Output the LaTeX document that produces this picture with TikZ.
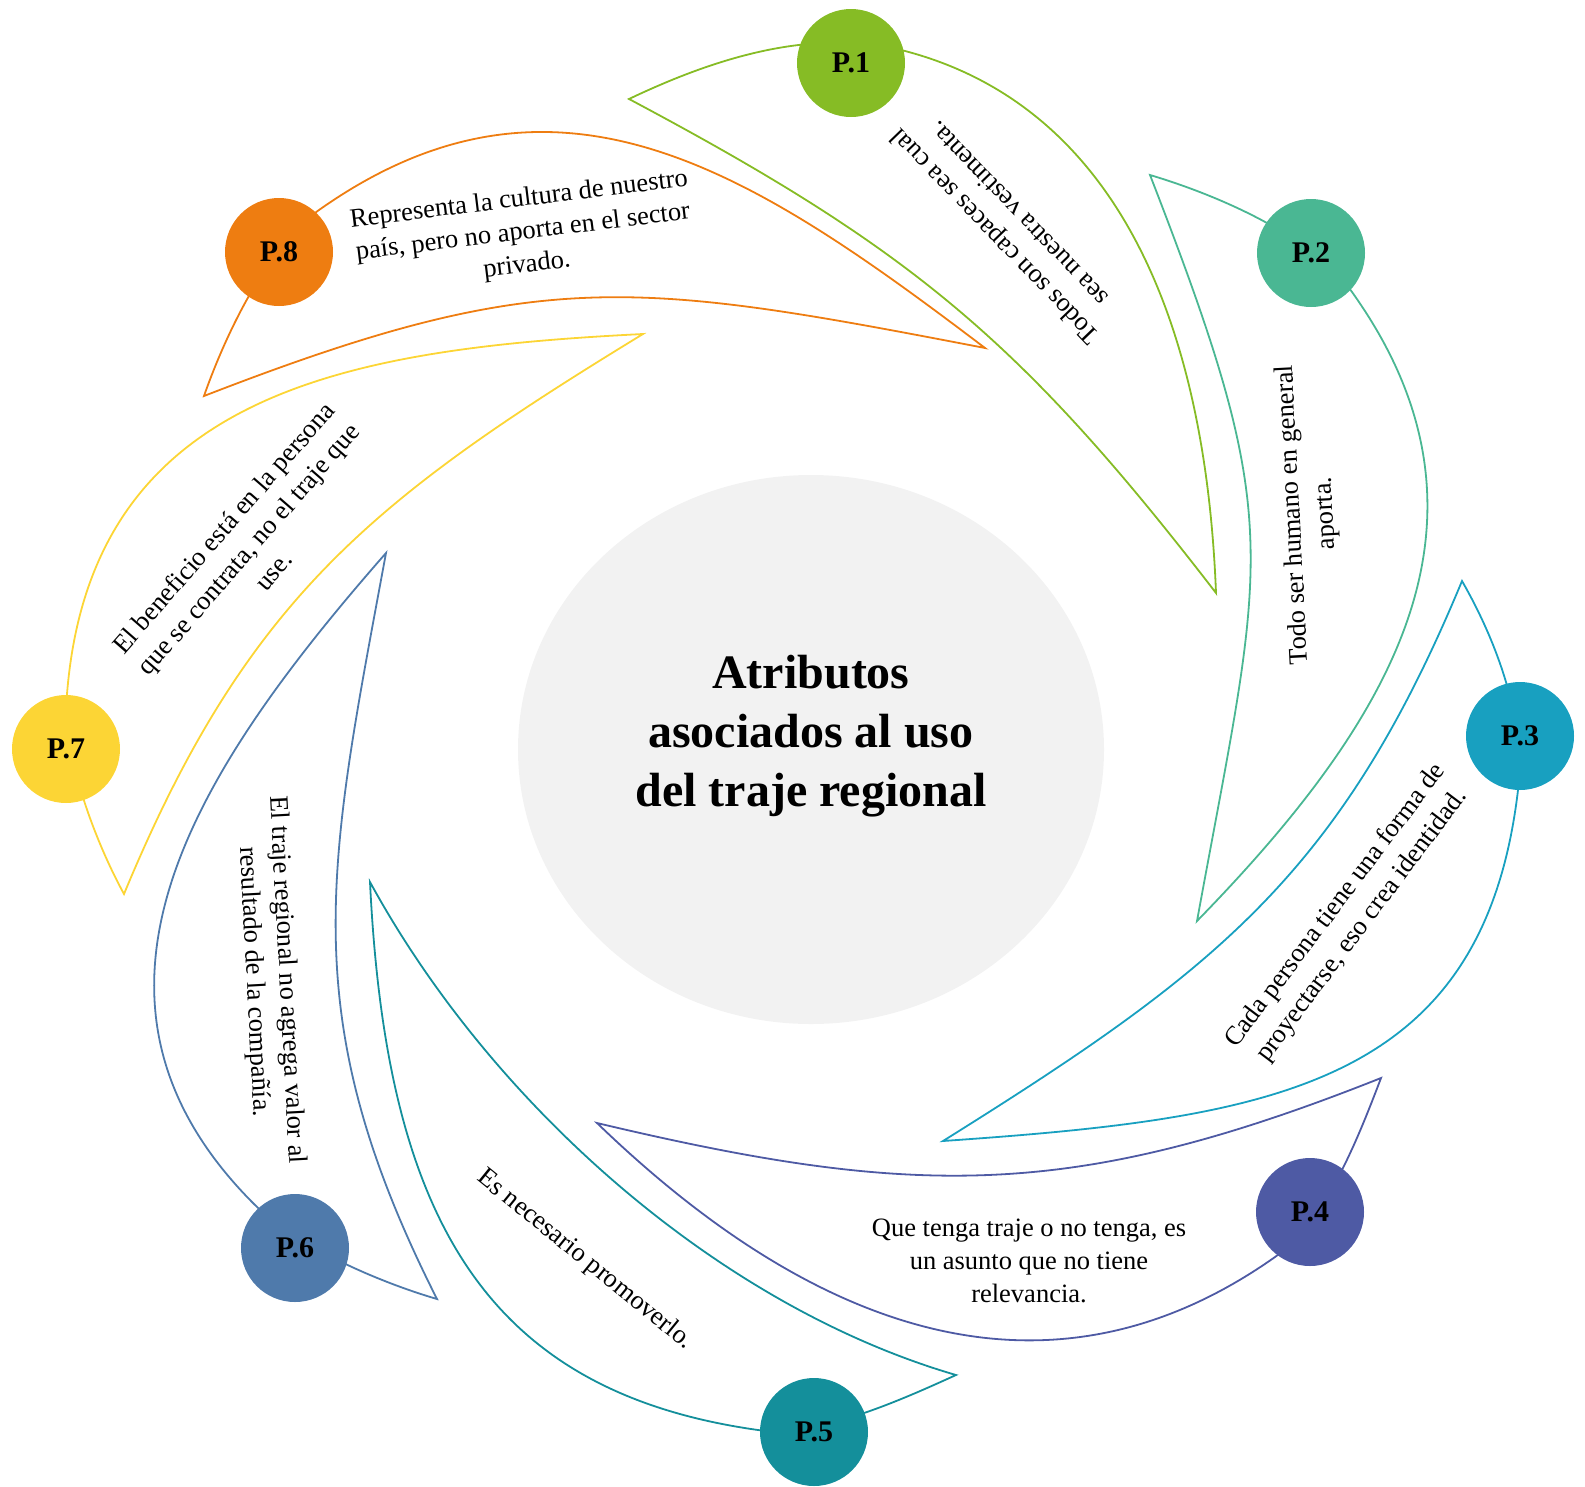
\documentclass[tikz,border=0pt]{standalone}
\usepackage{fontspec}
\setmainfont{Liberation Serif}
\usetikzlibrary{shapes.geometric}
\definecolor{cA}{HTML}{86BC25}
\definecolor{cB}{HTML}{4AB793}
\definecolor{cC}{HTML}{18A0C0}
\definecolor{cD}{HTML}{4E5AA4}
\definecolor{cE}{HTML}{148F9B}
\definecolor{cF}{HTML}{4F7AAB}
\definecolor{cG}{HTML}{FCD535}
\definecolor{cH}{HTML}{EE7D11}
\definecolor{hub}{HTML}{F2F2F2}
\begin{document}
\begin{tikzpicture}[x=1pt,y=-1pt,
  petal/.style={line width=1.8pt},
  pc/.style={circle, minimum size=108pt, inner sep=0pt, font=\fontsize{30}{36}\selectfont\bfseries},
  lbl/.style={align=center, inner sep=0pt, font=\fontsize{26.5}{33}\selectfont}]
\useasboundingbox (0,0) rectangle (1585,1486);

% hub
\node[ellipse, fill=hub, minimum width=586pt, minimum height=549pt, inner sep=0pt] (hub) at (811,749.5) {};
\node[align=center, inner sep=0pt, font=\fontsize{48}{59}\selectfont\bfseries] (title) at (811,736) {Atributos\\asociados al uso\\del traje regional};

% petal 1
\draw[petal, cA] (629,99) .. controls (715,58) and (813,27) .. (905,51)
  .. controls (1110,105) and (1205,310) .. (1216,593)
  .. controls (1021,340) and (911,249) .. cycle;
% petal 2
\draw[petal, cB] (1150,175) .. controls (1217,195) and (1311,235) .. (1352,292)
  .. controls (1514,519) and (1393,720) .. (1197,921)
  .. controls (1265,549) and (1287,528) .. cycle;
% petal 3
\draw[petal, cC] (1462,581) .. controls (1497,642) and (1526,721) .. (1518,790)
  .. controls (1483,1087) and (1272,1118) .. (943,1141)
  .. controls (1215,971) and (1340,875) .. cycle;
% petal 4
\draw[petal, cD] (1381,1078) .. controls (1356,1144) and (1324,1223) .. (1275,1257)
  .. controls (1037,1425) and (799,1318) .. (597,1123)
  .. controls (917,1199) and (1074,1200) .. cycle;
% petal 5
\draw[petal, cE] (956,1375) .. controls (901,1400) and (817,1438) .. (758,1430)
  .. controls (481,1391) and (386,1212) .. (370,882)
  .. controls (490,1102) and (716,1305) .. cycle;
% petal 6
\draw[petal, cF] (437,1299) .. controls (379,1282) and (297,1247) .. (254,1204)
  .. controls (48,998) and (195,771) .. (386,553)
  .. controls (328,867) and (293,1014) .. cycle;
% petal 7
\draw[petal, cG] (124,894) .. controls (95,841) and (62,754) .. (67,694)
  .. controls (91,394) and (343,349) .. (643,334)
  .. controls (371,500) and (246,600) .. cycle;
% petal 8
\draw[petal, cH] (204,396) .. controls (227,330) and (270,244) .. (319,210)
  .. controls (557,42) and (753,172) .. (985,348)
  .. controls (632,280) and (539,266) .. cycle;

% circles
\node[pc, fill=cA] (p1) at (851,63) {P.1};
\node[pc, fill=cB] (p2) at (1311,253) {P.2};
\node[pc, fill=cC] (p3) at (1520,736) {P.3};
\node[pc, fill=cD] (p4) at (1310,1212) {P.4};
\node[pc, fill=cE] (p5) at (814,1432) {P.5};
\node[pc, fill=cF] (p6) at (295,1248) {P.6};
\node[pc, fill=cG] (p7) at (66,749) {P.7};
\node[pc, fill=cH] (p8) at (279,252) {P.8};

% texts
\node[lbl, rotate=134] (t1) at (1006,226) {Todos son capaces sea cual\\sea nuestra vestimenta.};
\node[lbl, rotate=93] (t2) at (1310,514) {Todo ser humano en general\\aporta.};
\node[lbl, rotate=53] (t3) at (1349,916) {Cada persona tiene una forma de\\proyectarse, eso crea identidad.};
\node[lbl] (t4) at (1029,1261) {Que tenga traje o no tenga, es\\un asunto que no tiene\\relevancia.};
\node[lbl, rotate=-39] (t5) at (585,1260) {Es necesario promoverlo.};
\node[lbl, rotate=-87] (t6) at (270,981) {El traje regional no agrega valor al\\resultado de la compañía.};
\node[lbl, rotate=49] (t7) at (248,549) {El beneficio está en la persona\\que se contrata, no el traje que\\use.};
\node[lbl, rotate=7] (t8) at (523,233) {Representa la cultura de nuestro\\país, pero no aporta en el sector\\privado.};
\end{tikzpicture}
\end{document}
